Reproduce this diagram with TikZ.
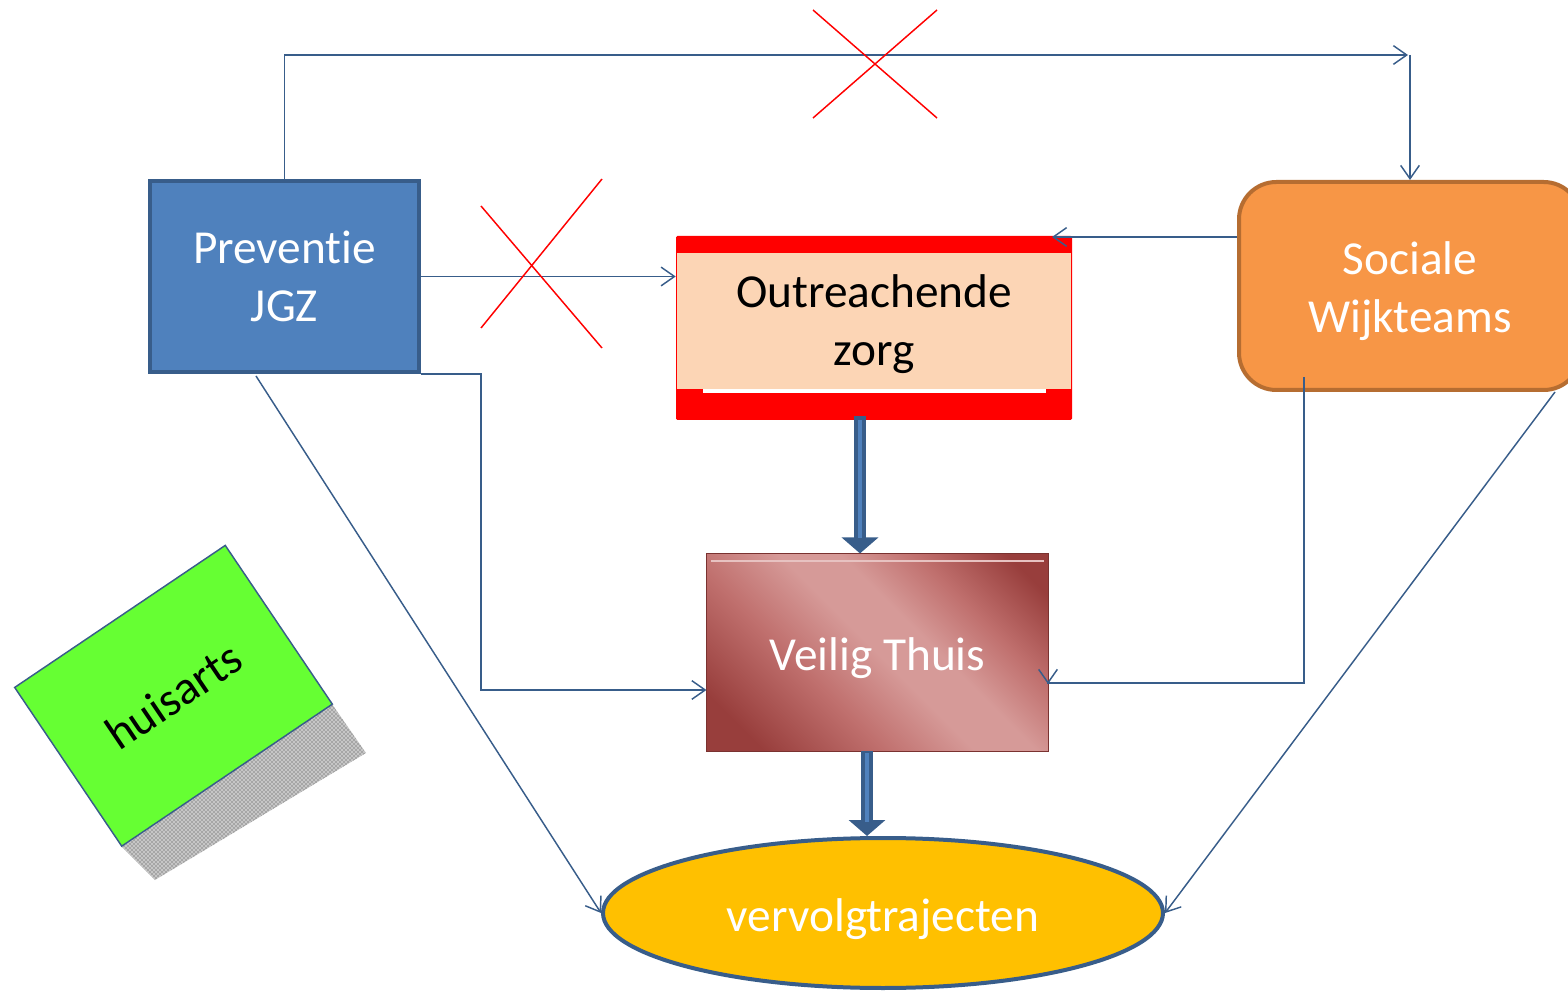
\documentclass[tikz,border=0pt]{standalone}
\usepackage{fontspec}
\setmainfont{Carlito}[Ligatures=NoCommon]
\usetikzlibrary{arrows.meta,shapes.geometric,patterns}

\definecolor{jgzblue}{RGB}{79,129,189}
\definecolor{jgzborder}{RGB}{56,93,138}
\definecolor{peach}{RGB}{252,213,181}
\definecolor{wijkorange}{RGB}{247,150,70}
\definecolor{wijkborder}{RGB}{182,109,49}
\definecolor{trajgold}{RGB}{255,192,0}
\definecolor{artsgreen}{RGB}{102,255,51}
\definecolor{vtdark}{RGB}{152,62,60}
\definecolor{vtmid}{RGB}{192,112,110}
\definecolor{vtlight}{RGB}{214,154,152}

\pgfdeclarehorizontalshading{veiligshade}{100bp}{color(0bp)=(vtdark); color(22bp)=(vtdark); color(38bp)=(vtmid); color(50bp)=(vtlight); color(58bp)=(vtlight); color(68bp)=(vtmid); color(80bp)=(vtdark); color(100bp)=(vtdark)}

\tikzset{
  bigtext/.style={font=\fontsize{35.5}{43}\selectfont, align=center},
  flow/.style={draw=jgzborder, line width=1.1pt, -{Straight Barb[length=10pt,width=14pt]}},
  bigflow/.style={draw=jgzborder, line width=9pt, -{Triangle[length=12pt,width=27pt]}},
  kruis/.style={draw=red, line width=1.1pt},
}

\begin{document}
\begin{tikzpicture}[x=0.75pt,y=0.75pt,yscale=-1,xscale=1]
        \useasboundingbox (0,0) rectangle (1568,994);

        % boxes
        \node [bigtext, text=white, fill=jgzblue, draw=jgzborder, line width=3pt, minimum width=202pt, minimum height=143pt] (jgz) at (284.5,276.5) {Preventie\\JGZ};
        \node [fill=red, rounded corners=1pt, minimum width=297pt, minimum height=138pt] (outreach) at (874,328) {};
        \fill [peach] (677,253) rectangle (1071,389);
        \fill [white] (703,389) rectangle (1046,393);
        \node [bigtext] (outtext) at (874,324) {Outreachende\\zorg};
        \node [fill=wijkorange, draw=wijkborder, line width=3pt, rounded corners=28pt, minimum width=256.5pt, minimum height=156pt] (wijk) at (1410,286) {};
        \node [bigtext, text=white] (wijktext) at (1410,291) {Sociale\\Wijkteams};
        \node [draw=vtdark!80!black, line width=0.6pt, shading=veiligshade, shading angle=45, minimum width=256pt, minimum height=148pt] (veilig) at (877.5,652.5) {};
        \draw [vtlight!60!white, line width=1.5pt] (711,561) -- (1044,561);
        \node [bigtext, text=white] (veiligtext) at (877.5,658) {Veilig Thuis};
        \node [ellipse, fill=trajgold, draw=jgzborder, line width=3pt, minimum width=420pt, minimum height=112.5pt] (traject) at (883,913) {};
        \node [bigtext, text=white] (trajtext) at (883,919) {vervolgtrajecten};

        % huisarts with shadow
        \path [fill=gray!45, postaction={pattern=crosshatch dots, pattern color=gray!50!black}] (332,704) -- (366,753) -- (155,880) -- (122,847) -- cycle;
        \node [bigtext, fill=artsgreen, draw=jgzborder, line width=1.1pt, rotate=34, minimum width=190.5pt, minimum height=143.6pt] (huisarts) at (173.5,695.8) {huisarts};

        % connectors
        \draw [flow] (jgz.north) |- (1408,55);
        \draw [flow] (1410,55) -- (wijk.north);
        \draw [flow] (jgz.east) -- (outreach.west |- jgz.east);
        \draw [flow] (jgz.south east) -| (481,690) -- (veilig.west |- 0,690);
        \draw [flow] (256,376) -- (traject.west);
        \draw [flow] (wijk.west |- 0,237) -- (1052,237);
        \draw [flow] (1304,377) |- (1048,683) -- (1048,684);
        \draw [flow] (1555,392) -- (traject.east);

        % thick arrows
        \draw [bigflow] (860,416) -- (veilig.north -| 860,0);
        \draw [jgzblue, line width=3pt] (860,420) -- (860,538);
        \draw [bigflow] (867,751) -- (traject.north -| 867,0);
        \draw [jgzblue, line width=3pt] (867,753) -- (867,822);

        % crosses
        \draw [kruis] (481,206) -- (602,348) (602,179) -- (481,328);
        \draw [kruis] (813,10) -- (937,118) (937,10) -- (813,118);
    \end{tikzpicture}
\end{document}
